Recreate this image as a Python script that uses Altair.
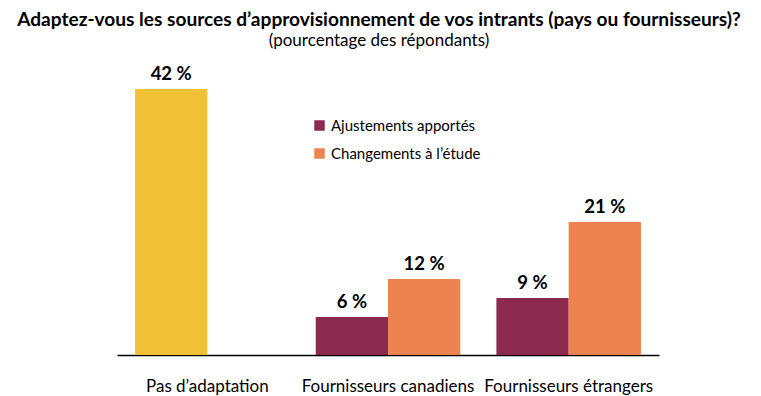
import altair as alt
import pandas as pd

categories = ["Pas d’adaptation", "Fournisseurs canadiens", "Fournisseurs canadiens",
              "Fournisseurs étrangers", "Fournisseurs étrangers"]
series = ["Pas d’adaptation", "Ajustements apportés", "Changements à l’étude",
          "Ajustements apportés", "Changements à l’étude"]
slots = ["a", "a", "b", "a", "b"]
values = [42, 6, 12, 9, 21]
labels = ["42 %", "6 %", "12 %", "9 %", "21 %"]

cat_order = ["Pas d’adaptation", "Fournisseurs canadiens", "Fournisseurs étrangers"]
series_order = ["Pas d’adaptation", "Ajustements apportés", "Changements à l’étude"]
colors = ["#F0C134", "#8B2A4E", "#ED834E"]

df = pd.DataFrame({"cat": categories, "series": series, "slot": slots,
                   "value": values, "label": labels})

FONT = "Lato"

x = alt.X("cat:N", sort=cat_order, title=None,
          scale=alt.Scale(paddingInner=0.2, paddingOuter=0.1),
          axis=alt.Axis(labelAngle=0, labelFontSize=17, labelColor="#000000",
                        labelFont=FONT, ticks=False, domainColor="#000000",
                        domainWidth=1.3, labelPadding=23))
xo = alt.XOffset("slot:N", scale=alt.Scale(domain=["a", "b"], paddingInner=0, paddingOuter=0))
y = alt.Y("value:Q", scale=alt.Scale(domain=[0, 45]), axis=None)

bars = alt.Chart(df).mark_bar().encode(
    x=x, xOffset=xo, y=y,
    color=alt.Color("series:N",
                    scale=alt.Scale(domain=series_order, range=colors),
                    legend=alt.Legend(values=["Ajustements apportés", "Changements à l’étude"],
                                      title=None, orient="none", legendX=195, legendY=48,
                                      symbolType="square", symbolSize=110,
                                      symbolStrokeWidth=0, labelFontSize=15,
                                      labelFont=FONT, labelColor="#000000",
                                      rowPadding=12, labelOffset=4))
)

text = alt.Chart(df).mark_text(dy=-15, fontSize=18.5, fontWeight="bold", font=FONT,
                               color="#000000").encode(
    x=x, xOffset=xo, y=y, text="label:N"
)

chart = alt.layer(bars, text).properties(
    width=542, height=285,
    autosize=alt.AutoSizeParams(type="none"),
    padding={"left": 109, "top": 62, "right": 94, "bottom": 42},
    title=alt.TitleParams(
        text="Adaptez-vous les sources d’approvisionnement de vos intrants (pays ou fournisseurs)?",
        subtitle="(pourcentage des répondants)",
        font=FONT, fontSize=19.1, fontWeight="bold", color="#000000",
        subtitleFont=FONT, subtitleFontSize=17, subtitleColor="#000000",
        anchor="middle", dx=-9, offset=16, subtitlePadding=3, frame="group"
    )
).configure_view(stroke=None)

chart.save("out.html", embed_options={"renderer": "svg", "actions": False})
